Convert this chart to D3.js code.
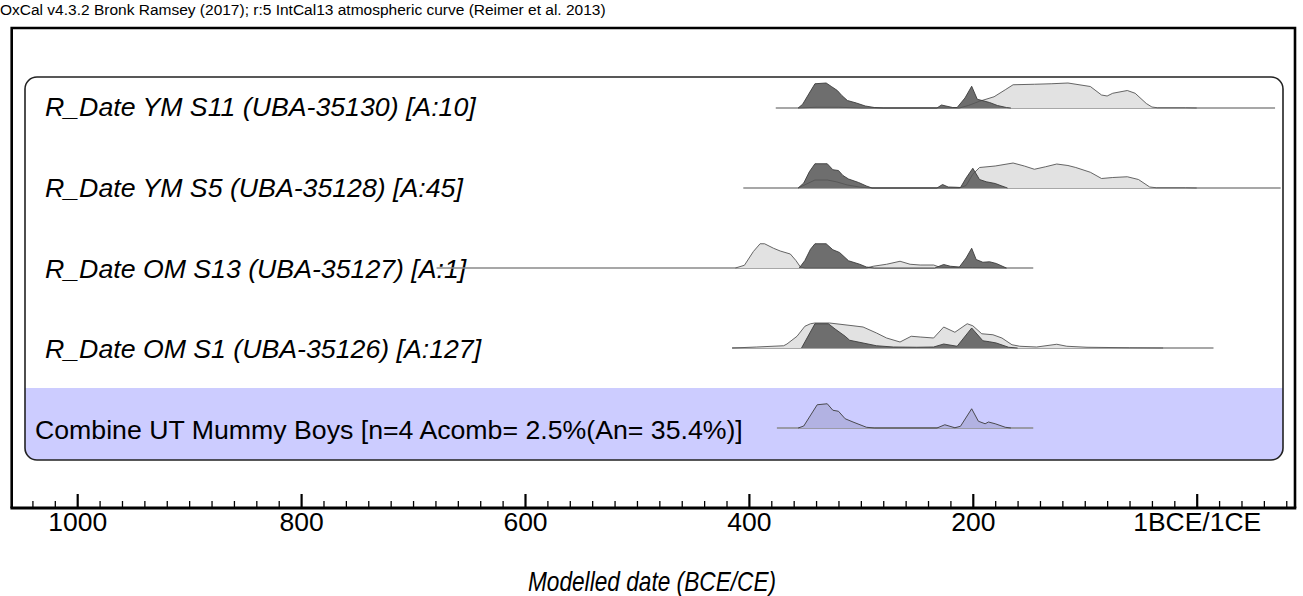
<!DOCTYPE html>
<html>
<head>
<meta charset="utf-8">
<script src="https://cdn.jsdelivr.net/npm/d3@7"></script>
<style>
  html, body { margin: 0; padding: 0; background: #fff; }
  svg { display: block; }
  text { font-family: "Liberation Sans", Arial, sans-serif; fill: #000; }
</style>
</head>
<body>
<svg id="chart" width="1303" height="596"></svg>
<script>
// ---------------- DATA ----------------
const caption = "OxCal v4.3.2 Bronk Ramsey (2017); r:5 IntCal13 atmospheric curve (Reimer et al. 2013)";
const axisTitle = "Modelled date (BCE/CE)";
const majorTicks = [1000, 800, 600, 400, 200, 0];
const tickLabels = ["1000", "800", "600", "400", "200", "1BCE/1CE"];

const rowLabels = [
  "R_Date YM S11 (UBA-35130) [A:10]",
  "R_Date YM S5 (UBA-35128) [A:45]",
  "R_Date OM S13 (UBA-35127) [A:1]",
  "R_Date OM S1 (UBA-35126) [A:127]",
  "Combine UT Mummy Boys [n=4 Acomb= 2.5%(An= 35.4%)]"
];
// extent of each row's baseline (years BCE; negative = CE)
const rowRanges = [[376, -70], [405, -75], [679, 146], [415, -15], [375, 146]];

// likelihoods (light) — [year BCE, relative probability]
const s11Likelihood = [[356,0],[340,0.03],[320,0.03],[300,0],[212,0],[204,0.1],[194,0.27],[181,0.45],[171,0.73],[164,0.93],[145,0.95],[130,0.97],[115,1.0],[95,0.86],[85,0.52],[80,0.48],[75,0.59],[62,0.7],[55,0.59],[45,0.18],[40,0.04],[35,0.01],[10,0.01],[0,0]];
const s5Likelihood = [[356,0],[349,0.15],[341,0.32],[330,0.32],[322,0.25],[312,0.12],[300,0.03],[290,0],[212,0],[206,0.1],[200,0.55],[194,0.82],[180,0.88],[164,1.0],[154,0.88],[145,0.75],[135,0.85],[125,0.96],[115,0.9],[108,0.82],[95,0.63],[85,0.38],[75,0.42],[62,0.45],[52,0.34],[42,0.04],[36,0.01],[10,0.01],[0,0]];
const s13Likelihood = [[412,0],[404,0.11],[396,0.66],[390,0.97],[386,0.97],[378,0.79],[372,0.68],[363,0.56],[358,0.3],[354,0.04],[350,0],[295,0],[289,0.07],[277,0.15],[265,0.27],[256,0.15],[247,0.12],[235,0.12],[230,0.04],[225,0.02],[200,0.02],[180,0.01],[170,0]];
const s1Likelihood = [[415,0],[393,0.04],[369,0.09],[366,0.16],[357,0.47],[350,0.87],[345,0.97],[341,1],[328,1],[307,0.89],[298,0.84],[286,0.6],[277,0.4],[265,0.24],[255,0.47],[247,0.44],[235,0.4],[226,0.84],[216,0.63],[205,0.97],[200,0.89],[192,0.57],[182,0.53],[174,0.4],[165,0.13],[158,0.07],[143,0.04],[125,0.15],[116,0.07],[98,0.03],[60,0.01],[30,0]];

// posteriors (dark)
const s11Posterior = [[356,0],[352,0.15],[346,0.6],[341,0.97],[331,1.0],[326,0.85],[321,0.7],[317,0.5],[312,0.3],[304,0.2],[296,0.08],[288,0.02],[280,0],[232,0],[228,0.12],[224,0.08],[218,0.02],[214,0.02],[207,0.4],[201,0.87],[196,0.35],[190,0.28],[185,0.22],[178,0.1],[170,0.02],[166,0]];
const s5Posterior = [[356,0],[351,0.2],[346,0.65],[341,0.97],[330,0.97],[325,0.73],[320,0.7],[316,0.5],[311,0.36],[302,0.22],[295,0.08],[290,0],[232,0],[227,0.14],[222,0.04],[215,0.03],[211,0.02],[206,0.4],[200,0.79],[194,0.34],[188,0.25],[180,0.18],[174,0.08],[169,0]];
const s13Posterior = [[355,0],[350,0.3],[345,0.75],[341,0.97],[331,0.97],[325,0.73],[319,0.62],[311,0.29],[301,0.15],[295,0.04],[288,0],[234,0],[226,0.14],[220,0.07],[212,0.04],[206,0.4],[201,0.79],[197,0.34],[191,0.23],[185,0.25],[179,0.18],[170,0]];
const s1Posterior = [[353,0],[341,0.97],[329,0.97],[323,0.76],[314,0.47],[310,0.31],[298,0.2],[286,0.09],[271,0.04],[250,0.03],[235,0.04],[226,0.16],[214,0.07],[201,0.8],[191,0.29],[185,0.25],[179,0.2],[168,0.03],[160,0]];
const combinePosterior = [[356,0],[351,0.08],[339,0.93],[330,0.97],[325,0.71],[320,0.67],[314,0.37],[307,0.24],[295,0.03],[288,0],[232,0],[225,0.13],[216,0.01],[211,0.07],[201,0.77],[195,0.27],[189,0.17],[186,0.24],[180,0.17],[171,0.03],[166,0]];

const likelihoods = [s11Likelihood, s5Likelihood, s13Likelihood, s1Likelihood, null];
const posteriors = [s11Posterior, s5Posterior, s13Posterior, s1Posterior, combinePosterior];

// ---------------- LAYOUT ----------------
const svg = d3.select("#chart");
const frame = { left: 11.7, right: 1295, top: 28, bottom: 508 };
const x = d3.scaleLinear().domain([1000, 0]).range([77.2, 1196.7]);
const xFull = x.copy().domain([x.invert(frame.left), x.invert(frame.right)]).range([frame.left, frame.right]);
const rowY = d3.scalePoint().domain(d3.range(rowLabels.length)).range([108, 428]);
const h = d3.scaleLinear().domain([0, 1]).range([0, 25]);

// caption
svg.append("text").attr("x", 0).attr("y", 15).attr("font-size", 15.5)
  .text(caption);

// panel
const panel = { x: 25, y: 77, w: 1258, h: 383, r: 12 };
const bandTop = 388;
svg.append("defs").append("clipPath").attr("id", "panelClip")
  .append("rect").attr("x", panel.x).attr("y", panel.y).attr("width", panel.w).attr("height", panel.h).attr("rx", panel.r);
svg.append("rect").attr("x", panel.x).attr("y", panel.y).attr("width", panel.w).attr("height", panel.h)
  .attr("rx", panel.r).attr("fill", "#fff");
svg.append("rect").attr("clip-path", "url(#panelClip)")
  .attr("x", panel.x).attr("y", bandTop).attr("width", panel.w).attr("height", panel.y + panel.h - bandTop)
  .attr("fill", "#ccccff");

// distributions
const area = base => d3.area().x(d => x(d[0])).y0(base).y1(d => base - h(d[1])).curve(d3.curveLinear);
const line = base => d3.line().x(d => x(d[0])).y(d => base - h(d[1])).curve(d3.curveLinear);

rowLabels.forEach((lab, i) => {
  const base = rowY(i);
  const g = svg.append("g");
  // label
  g.append("text")
    .attr("x", i === 4 ? 35 : 45)
    .attr("y", base + 8 + i * 0.8)
    .attr("font-size", 26.7)
    .attr("font-style", i === 4 ? "normal" : "italic")
    .text(lab);
  // baseline
  g.append("line")
    .attr("x1", x(rowRanges[i][0])).attr("x2", x(rowRanges[i][1]))
    .attr("y1", base).attr("y2", base)
    .attr("stroke", "#8a8a8a").attr("stroke-width", 1.6);
  const lk = likelihoods[i], po = posteriors[i];
  if (lk) g.append("path").attr("d", area(base)(lk)).attr("fill", "#e2e2e2");
  if (i < 4) {
    g.append("path").attr("d", area(base)(po)).attr("fill", "#6e6e6e");
  } else {
    g.append("path").attr("d", area(base)(po)).attr("fill", "#b2b2e2");
  }
  if (lk) g.append("path").attr("d", line(base)(lk)).attr("fill", "none").attr("stroke", "#555").attr("stroke-width", 0.9);
  g.append("path").attr("d", line(base)(po)).attr("fill", "none").attr("stroke", "#3c3c3c").attr("stroke-width", 0.9);
});

// panel outline
svg.append("rect").attr("x", panel.x).attr("y", panel.y).attr("width", panel.w).attr("height", panel.h)
  .attr("rx", panel.r).attr("fill", "none").attr("stroke", "#222").attr("stroke-width", 1.6);

// outer frame
svg.append("path")
  .attr("d", `M${frame.left},${frame.bottom}V${frame.top}H${frame.right}V${frame.bottom}`)
  .attr("fill", "none").attr("stroke", "#000").attr("stroke-width", 2.6);

// axis
const minorTicks = d3.range(1040, -100, -20).filter(v => v % 200 !== 0);
const axisG = svg.append("g").attr("transform", `translate(0,${frame.bottom})`);
axisG.append("g").call(d3.axisBottom(xFull).tickValues(minorTicks).tickSizeInner(-7).tickSizeOuter(0).tickFormat(""))
  .call(g => g.select(".domain").remove())
  .call(g => g.selectAll(".tick line").attr("stroke", "#000").attr("stroke-width", 1.3));
axisG.append("g").call(d3.axisBottom(xFull).tickValues(majorTicks).tickSizeInner(-14).tickSizeOuter(0).tickPadding(4)
    .tickFormat((d, i) => tickLabels[i]))
  .call(g => g.select(".domain").remove())
  .call(g => g.selectAll(".tick line").attr("stroke", "#000").attr("stroke-width", 2.2))
  .call(g => g.selectAll(".tick text").attr("font-size", 26.5).attr("font-family", "Liberation Sans, Arial, sans-serif").attr("fill", "#000"));
axisG.append("line").attr("x1", frame.left - 1.3).attr("x2", frame.right + 1.3).attr("y1", 0).attr("y2", 0)
  .attr("stroke", "#000").attr("stroke-width", 3);

// axis title (slightly condensed, as in the original)
svg.append("g").attr("transform", "translate(652,591) scale(0.84,1)")
  .append("text").attr("x", 0).attr("y", 0).attr("text-anchor", "middle")
  .attr("font-size", 27).attr("font-style", "italic").text(axisTitle);
</script>
</body>
</html>
